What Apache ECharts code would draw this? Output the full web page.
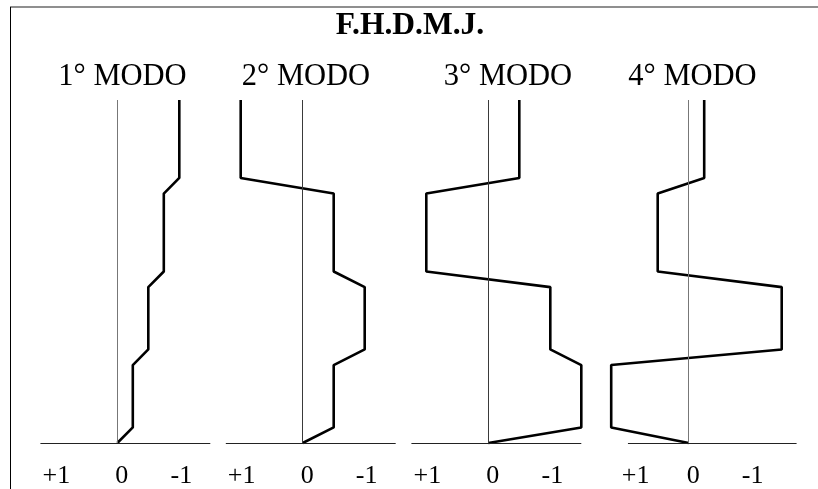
<!DOCTYPE html>
<html>
<head>
<meta charset="utf-8">
<script src="https://cdn.jsdelivr.net/npm/echarts@6/dist/echarts.min.js"></script>
<style>
html,body{margin:0;padding:0;background:#fff;}
#chart{width:818px;height:489px;}
</style>
</head>
<body>
<div id="chart"></div>
<script>
// ---- data ----
var mainTitle = 'F.H.D.M.J.';
var modeTitles = ['1° MODO', '2° MODO', '3° MODO', '4° MODO'];
// storey levels, bottom to top
var heights = [0, 1, 5, 6, 10, 11, 16, 17, 22];
// modal displacements (positive values are drawn to the left)
var mode1 = [0, -0.25, -0.25, -0.5, -0.5, -0.75, -0.75, -1, -1];
var mode2 = [0, -0.5, -0.5, -1, -1, -0.5, -0.5, 1, 1];
var mode3 = [0, -1.5, -1.5, -1, -1, 1, 1, -0.5, -0.5];
var mode4 = [0, 1.25, 1.25, -1.5, -1.5, 0.5, 0.5, -0.25, -0.25];
var modes = [mode1, mode2, mode3, mode4];
var tickValues = [1, 0, -1];
var tickLabels = ['+1', '0', '-1'];
// extent of each baseline (left = positive end, right = negative end)
var baseMax = [1.24, 1.24, 1.24, 0.98];
var baseMin = [-1.5, -1.5, -1.5, -1.74];
// extent of each panel's scale
var scaleMax = [1.24, 1.24, 1.24, 1.3];
var scaleMin = [-1.5, -1.5, -1.5, -1.74];

// ---- layout ----
var unit = 62;            // px per displacement unit
var zeroX = [117.3, 302.7, 488.3, 688.7];
var titleX = [122.5, 306, 508, 692.5];
var zeroColor = ['#777', '#3a3a3a', '#3a3a3a', '#777'];
var plotTop = 100, plotBottom = 489 - 443.3;
var font = "'Liberation Serif', 'Times New Roman', serif";

var chart = echarts.init(document.getElementById('chart'), null, {renderer: 'canvas'});

var grids = [], xAxes = [], yAxes = [], series = [], titles = [];
titles.push({
  text: mainTitle, left: 410, top: 10, textAlign: 'center', padding: 0,
  textStyle: {fontFamily: font, fontSize: 31.5, fontWeight: 'bold', color: '#000'}
});
for (var i = 0; i < 4; i++) {
  var left = zeroX[i] - scaleMax[i] * unit;
  var width = (scaleMax[i] - scaleMin[i]) * unit;
  grids.push({left: left, width: width, top: plotTop, bottom: plotBottom, containLabel: false});
  var plusPad = (i === 3) ? 18 : 2;
  xAxes.push({
    type: 'value', gridIndex: i, inverse: true,
    min: scaleMin[i], max: scaleMax[i],
    position: 'bottom',
    axisLine: {show: false},
    axisTick: {show: false},
    splitLine: {show: false},
    axisLabel: {
      show: true, customValues: tickValues, margin: 20,
      formatter: function (v) {
        var idx = tickValues.indexOf(v);
        var key = idx === 0 ? 'p' : (idx === 1 ? 'z' : 'm');
        return '{' + key + '|' + tickLabels[idx] + '}';
      },
      rich: {
        p: {fontFamily: font, fontSize: 26, color: '#000', padding: [0, 0, 0, plusPad]},
        z: {fontFamily: font, fontSize: 26, color: '#000', padding: [0, 0, 0, 9]},
        m: {fontFamily: font, fontSize: 26, color: '#000', padding: [0, 0, 0, 4]}
      }
    }
  });
  yAxes.push({
    type: 'value', gridIndex: i, min: 0, max: 22, show: false
  });
  var pts = [];
  for (var k = 0; k < heights.length; k++) pts.push([modes[i][k], heights[k]]);
  series.push({
    type: 'line', xAxisIndex: i, yAxisIndex: i, data: pts,
    symbol: 'none', clip: false, silent: true, animation: false,
    lineStyle: {color: '#000', width: 2.6},
    markLine: {
      silent: true, symbol: 'none', animation: false,
      label: {show: false},
      lineStyle: {type: 'solid', width: 1},
      data: [
        {xAxis: 0, lineStyle: {color: zeroColor[i], width: 1, type: 'solid'}},
        [
          {coord: [baseMax[i], 0], lineStyle: {color: '#222', width: 1, type: 'solid'}},
          {coord: [baseMin[i], 0]}
        ]
      ]
    },
    z: 3
  });
  titles.push({
    text: modeTitles[i], left: titleX[i], top: 61, textAlign: 'center', padding: 0,
    textStyle: {fontFamily: font, fontSize: 30.5, fontWeight: 'normal', color: '#000'}
  });
}

chart.setOption({
  backgroundColor: '#fff',
  animation: false,
  title: titles,
  grid: grids,
  xAxis: xAxes,
  yAxis: yAxes,
  series: series,
  graphic: [
    {type: 'line', shape: {x1: 10, y1: 7, x2: 818, y2: 7}, style: {stroke: '#6a6a6a', lineWidth: 1.5}, silent: true},
    {type: 'line', shape: {x1: 10.5, y1: 7, x2: 10.5, y2: 489}, style: {stroke: '#000', lineWidth: 1}, silent: true}
  ]
});
</script>
</body>
</html>
